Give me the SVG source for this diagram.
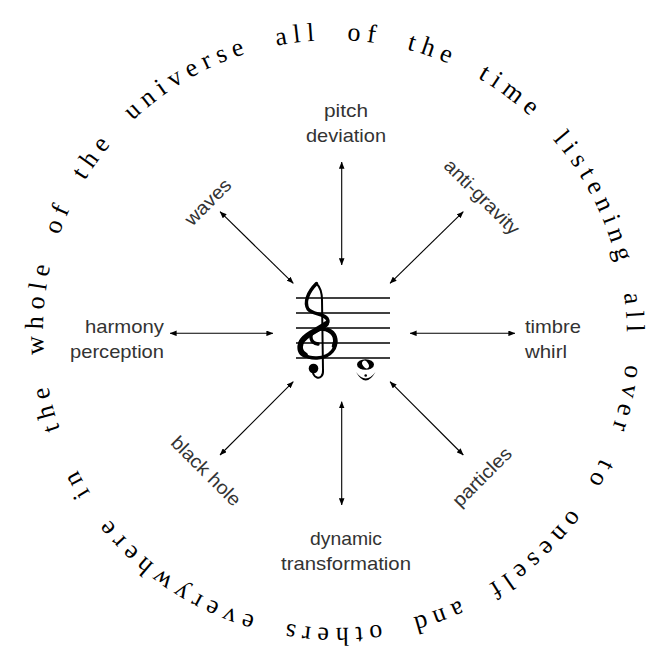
<svg xmlns="http://www.w3.org/2000/svg" width="653" height="651" viewBox="0 0 653 651">
<style>
.ring{font-family:"Liberation Serif","Times New Roman",serif;font-size:26px;letter-spacing:6.3px;fill:#000}
.lbl{font-family:"Liberation Sans",Arial,sans-serif;font-size:19px;fill:#333}
.conn line{stroke:#000;stroke-width:1.1;marker-start:url(#ah);marker-end:url(#ah)}
.staff line{stroke:#000;stroke-width:1.3}
</style>
<defs>
<marker id="ah" viewBox="0 0 10 8" refX="9.5" refY="4" markerWidth="7" markerHeight="5.6" markerUnits="userSpaceOnUse" orient="auto-start-reverse">
<path d="M0 0 L10 4 L0 8 Z" fill="#000"/>
</marker>
<path id="ringPath" d="M 60.03 429.2 A 291 291 0 1 1 609.97 238.8 A 291 291 0 1 1 60.03 429.2"/>
</defs>
<rect width="653" height="651" fill="#fff"/>

<g id="ring">
<text class="ring"><textPath href="#ringPath" startOffset="0">the</textPath></text>
<text class="ring"><textPath href="#ringPath" startOffset="76.67">whole</textPath></text>
<text class="ring"><textPath href="#ringPath" startOffset="197.71">of</textPath></text>
<text class="ring"><textPath href="#ringPath" startOffset="257.97">the</textPath></text>
<text class="ring"><textPath href="#ringPath" startOffset="334.64">universe</textPath></text>
<text class="ring"><textPath href="#ringPath" startOffset="499.13">all</textPath></text>
<text class="ring"><textPath href="#ringPath" startOffset="570.03">of</textPath></text>
<text class="ring"><textPath href="#ringPath" startOffset="630.29">the</textPath></text>
<text class="ring"><textPath href="#ringPath" startOffset="706.96">time</textPath></text>
<text class="ring"><textPath href="#ringPath" startOffset="804.39">listening</textPath></text>
<text class="ring"><textPath href="#ringPath" startOffset="976.66">all</textPath></text>
<text class="ring"><textPath href="#ringPath" startOffset="1047.56">over</textPath></text>
<text class="ring"><textPath href="#ringPath" startOffset="1144.96">to</textPath></text>
<text class="ring"><textPath href="#ringPath" startOffset="1203.79">oneself</textPath></text>
<text class="ring"><textPath href="#ringPath" startOffset="1348.98">and</textPath></text>
<text class="ring"><textPath href="#ringPath" startOffset="1431.42">others</textPath></text>
<text class="ring"><textPath href="#ringPath" startOffset="1558.76">everywhere</textPath></text>
<text class="ring"><textPath href="#ringPath" startOffset="1769.02">in</textPath></text>
</g>

<g id="center">
<g class="staff">
<line x1="296" y1="298" x2="390" y2="298"/>
<line x1="296" y1="313" x2="390" y2="313"/>
<line x1="296" y1="328" x2="390" y2="328"/>
<line x1="296" y1="343" x2="390" y2="343"/>
<line x1="296" y1="358" x2="390" y2="358"/>
</g>
<g id="clef" fill="none" stroke="#000" stroke-linecap="round" stroke-linejoin="round">
<path d="M 316.5 283.5 C 308 292, 304 302, 308 309 C 312 315, 327 313, 328 321 C 329 328, 303 334, 300 343 C 297 353, 307 358.5, 317 358 C 331 357.5, 338 347, 335 338 C 332 329, 320 327, 314 331 C 309 335, 310 343, 318 344" stroke-width="3.4"/>
<path d="M 326 324 C 318 330, 304 335, 301 343 C 299 349, 301 353, 305 355" stroke-width="5.5"/>
<path d="M 334 346 C 337 340, 335 333, 328 330" stroke-width="4.5"/>
<path d="M 316.5 283.5 C 320 287, 322 292, 322 300 L 323 370 C 323.5 376, 320 378.5, 317 377.5 C 314 376.5, 312 373, 313 369" stroke-width="2"/>
<circle cx="313.5" cy="368.5" r="4.8" fill="#000" stroke="none"/>
</g>
<g id="note">
<ellipse cx="365.5" cy="364.5" rx="8.5" ry="5.3" fill="#000"/>
<ellipse cx="365.5" cy="364.5" rx="2.8" ry="4.2" transform="rotate(-35 365.5 364.5)" fill="#fff"/>
<path d="M 356 372 Q 365.7 389 375.5 372 Q 365.7 385 356 372 Z" fill="#000"/>
<circle cx="365.7" cy="375.5" r="1.3" fill="#000"/>
</g>
</g>

<g id="connectors" class="conn">
<line x1="341.7" y1="265" x2="341.7" y2="162"/>
<line x1="293.3" y1="283.3" x2="220" y2="211.7"/>
<line x1="390" y1="283.3" x2="463.3" y2="211.7"/>
<line x1="273" y1="333.3" x2="170" y2="333.3"/>
<line x1="410" y1="333.3" x2="515" y2="333.3"/>
<line x1="341.7" y1="401.7" x2="341.7" y2="505"/>
<line x1="293.3" y1="381.7" x2="220" y2="455"/>
<line x1="390" y1="381.7" x2="463.3" y2="455"/>
</g>

<g id="pitch-deviation"><text class="lbl" text-anchor="middle" x="346" y="117" textLength="44" lengthAdjust="spacingAndGlyphs">pitch</text><text class="lbl" text-anchor="middle" x="346" y="142" textLength="80" lengthAdjust="spacingAndGlyphs">deviation</text></g>
<g id="waves"><text class="lbl" text-anchor="middle" transform="translate(212.5 206.5) rotate(-45)" textLength="57" lengthAdjust="spacingAndGlyphs">waves</text></g>
<g id="anti-gravity"><text class="lbl" text-anchor="middle" transform="translate(477.5 201.5) rotate(45)" textLength="98" lengthAdjust="spacingAndGlyphs">anti-gravity</text></g>
<g id="harmony-perception"><text class="lbl" text-anchor="end" x="164" y="333" textLength="79" lengthAdjust="spacingAndGlyphs">harmony</text><text class="lbl" text-anchor="end" x="164" y="358" textLength="94" lengthAdjust="spacingAndGlyphs">perception</text></g>
<g id="timbre-whirl"><text class="lbl" x="525" y="333" textLength="56" lengthAdjust="spacingAndGlyphs">timbre</text><text class="lbl" x="525" y="358" textLength="42" lengthAdjust="spacingAndGlyphs">whirl</text></g>
<g id="black-hole"><text class="lbl" text-anchor="middle" transform="translate(201.5 475.5) rotate(45)" textLength="90" lengthAdjust="spacingAndGlyphs">black hole</text></g>
<g id="particles"><text class="lbl" text-anchor="middle" transform="translate(486.5 481.5) rotate(-45)" textLength="75" lengthAdjust="spacingAndGlyphs">particles</text></g>
<g id="dynamic-transformation"><text class="lbl" text-anchor="middle" x="346" y="545" textLength="72" lengthAdjust="spacingAndGlyphs">dynamic</text><text class="lbl" text-anchor="middle" x="346" y="570" textLength="130" lengthAdjust="spacingAndGlyphs">transformation</text></g>
</svg>
